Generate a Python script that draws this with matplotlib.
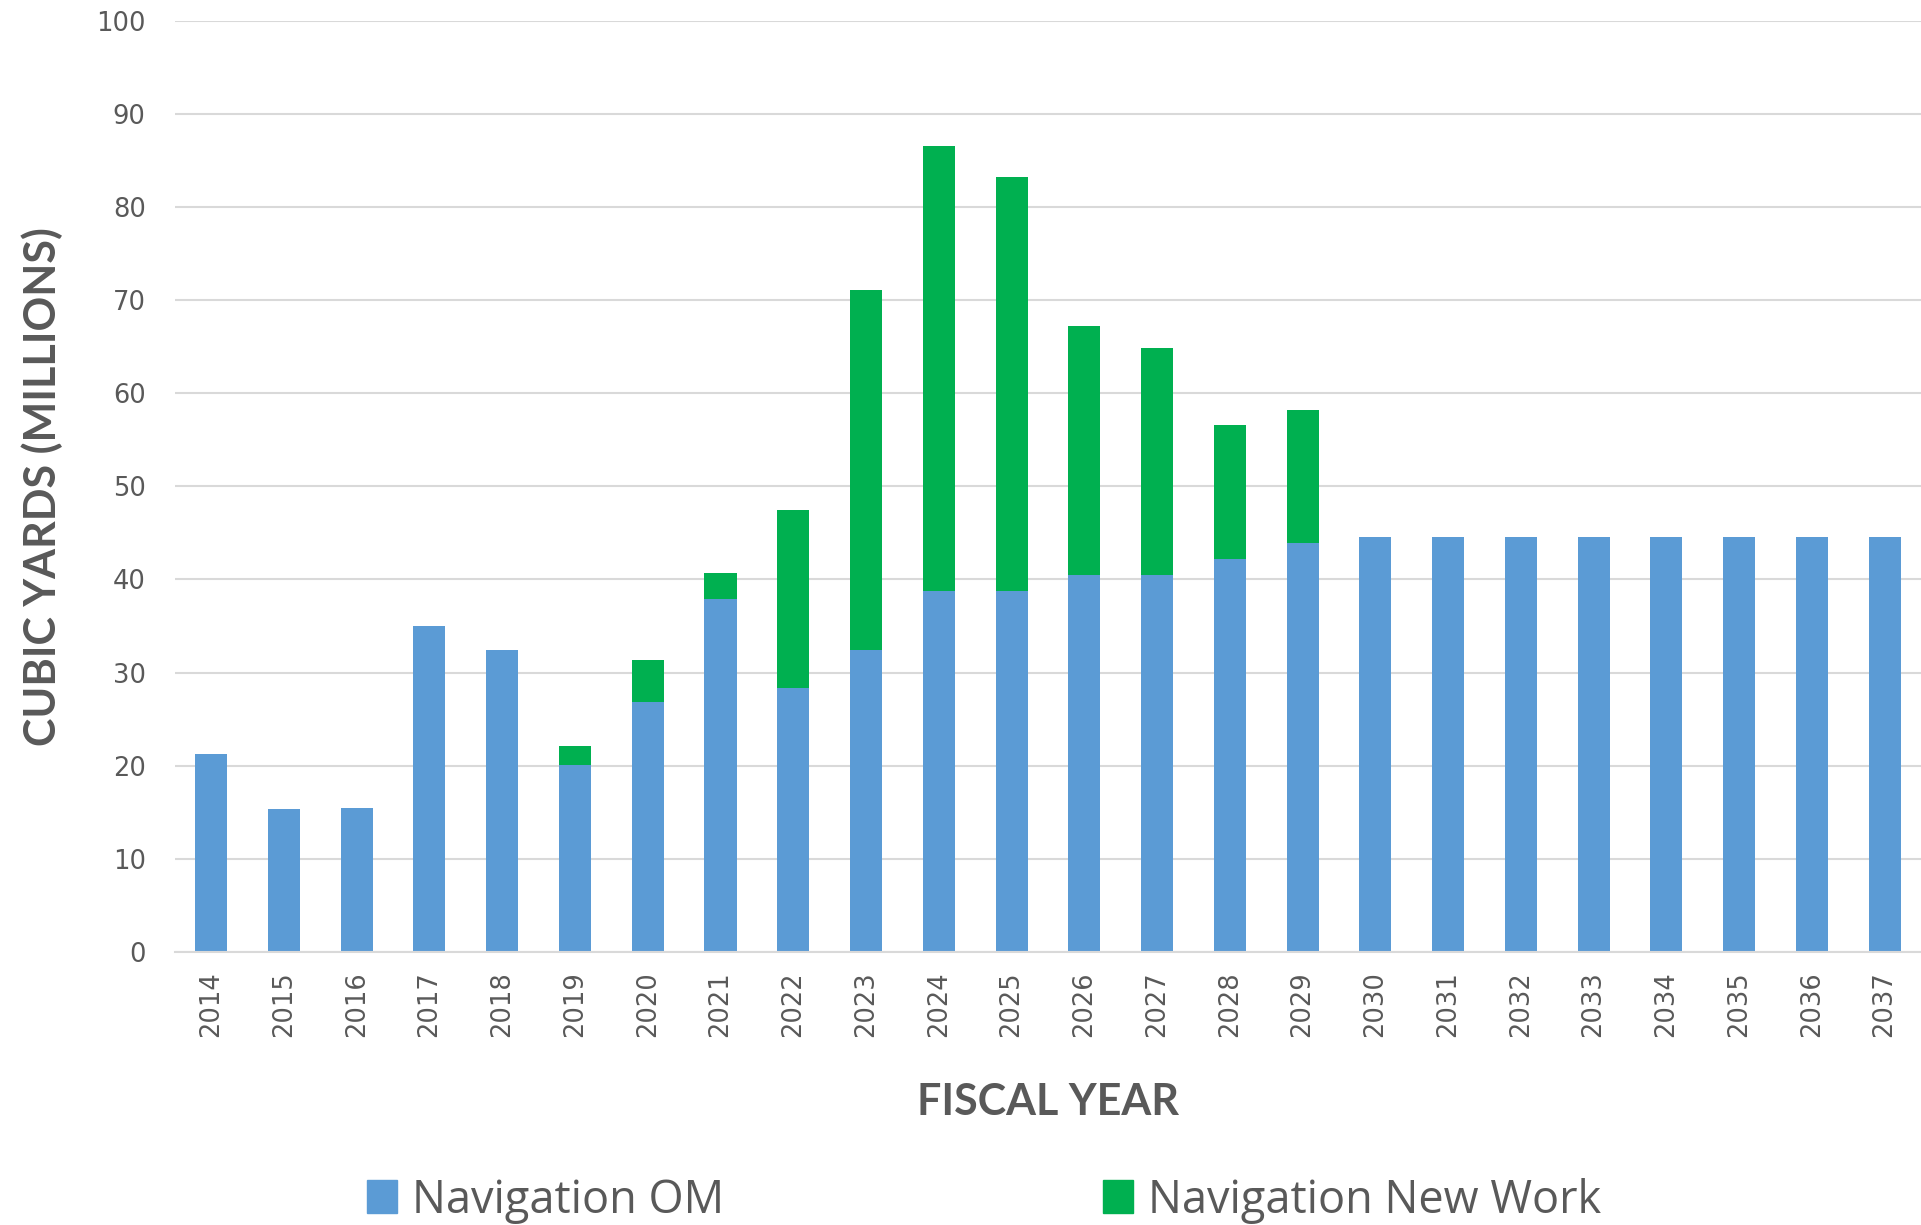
import numpy as np
import matplotlib.pyplot as plt
from matplotlib.patches import Patch

# Data (millions of cubic yards)
years = [str(y) for y in range(2014, 2038)]
nav_om = [21.3, 15.3, 15.5, 35.0, 32.4, 20.1, 26.8, 37.9, 28.3, 32.4, 38.8, 38.8,
          40.5, 40.5, 42.2, 43.9, 44.6, 44.6, 44.6, 44.6, 44.6, 44.6, 44.6, 44.6]
nav_total = [21.3, 15.3, 15.5, 35.0, 32.4, 22.1, 31.3, 40.7, 47.5, 71.1, 86.6, 83.2,
             67.2, 64.9, 56.6, 58.2, 44.6, 44.6, 44.6, 44.6, 44.6, 44.6, 44.6, 44.6]
nav_new = [t - o for t, o in zip(nav_total, nav_om)]
yticks = list(range(0, 101, 10))

blue = '#5B9BD5'
green = '#00B050'
grey_txt = '#595959'
label_font = ['Lato', 'DejaVu Sans']

fig = plt.figure(figsize=(19.21, 12.25), dpi=100)
ax = fig.add_axes([0.091, 0.223, 0.909, 0.760])

x = np.arange(len(years))
ax.bar(x, nav_om, width=0.44, color=blue, zorder=2)
ax.bar(x, nav_new, width=0.44, bottom=nav_om, color=green, zorder=2)

ax.set_xlim(-0.5, len(years) - 0.5)
ax.set_ylim(0, 100)
ax.set_yticks(yticks)
ax.set_yticklabels([str(v) for v in yticks], fontsize=18.5, color=grey_txt)
ax.set_xticks(x)
ax.set_xticklabels(years, rotation=90, fontsize=18.5, color=grey_txt)
ax.tick_params(axis='both', length=0)
ax.tick_params(axis='y', pad=21)
ax.tick_params(axis='x', pad=14)

ax.grid(axis='y', color='#d9d9d9', linewidth=1.5, zorder=0)
for s in ['top', 'right', 'left']:
    ax.spines[s].set_visible(False)
ax.spines['bottom'].set_color('#d9d9d9')
ax.spines['bottom'].set_linewidth(1.5)

ax.set_ylabel('CUBIC YARDS (MILLIONS)', fontsize=31, fontweight='bold',
              color=grey_txt, family=label_font, labelpad=24)
ax.set_xlabel('FISCAL YEAR', fontsize=31, fontweight='bold',
              color=grey_txt, family=label_font, labelpad=32)

handles = [Patch(color=blue, label='Navigation OM'),
           Patch(color=green, label='Navigation New Work')]
fig.legend(handles=handles, ncol=2, loc='center left',
           bbox_to_anchor=(0.191, 0.02), frameon=False,
           prop={'family': ['Open Sans', 'DejaVu Sans'], 'size': 32.5},
           labelcolor=grey_txt, handlelength=0.66, handleheight=0.75,
           handletextpad=0.33, columnspacing=8.4, borderpad=0, borderaxespad=0)

fig.savefig('out.png', dpi=100)
